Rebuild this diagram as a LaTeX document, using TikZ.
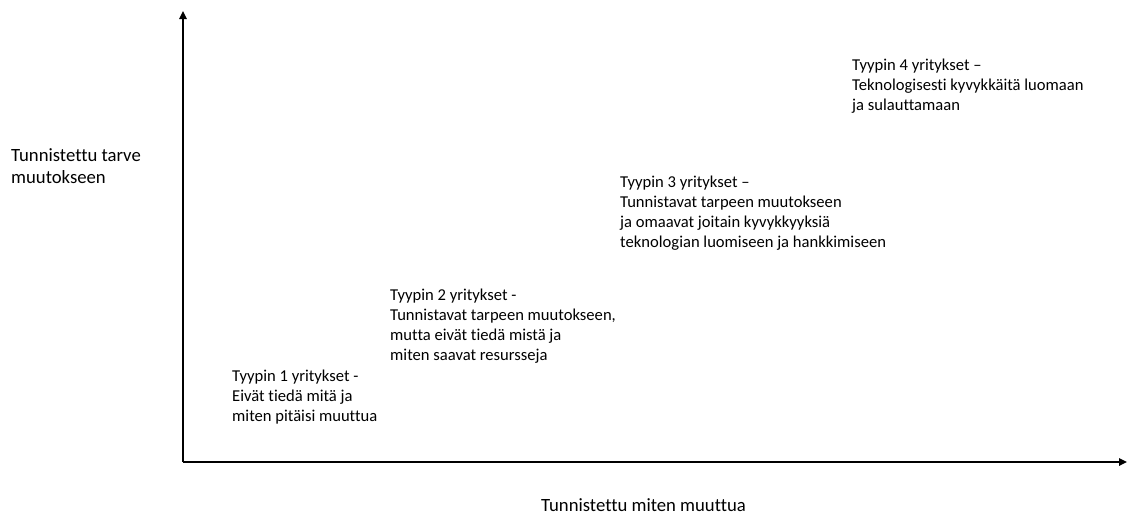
\documentclass[tikz,border=0pt]{standalone}
\usepackage{fontspec}
\setmainfont{Carlito}[Ligatures=NoCommon]
\usetikzlibrary{arrows.meta}
\begin{document}
\begin{tikzpicture}[x=1pt,y=-1pt,
  axis/.style={line width=1.6pt,-{Triangle[length=8pt,width=7.5pt]}},
  % nodes are placed at the baseline of their last line
  lbl/.style={anchor=base west,inner sep=0pt,align=left,font=\fontsize{16.6}{20}\selectfont},
  axlbl/.style={anchor=base west,inner sep=0pt,align=left,font=\fontsize{18.7}{22}\selectfont}]
\useasboundingbox (0,0) rectangle (1127,515);
\coordinate (o) at (183,462);
\coordinate (ytip) at (183,11);
\coordinate (xtip) at (1127,462);
\draw[axis] (o) -- (ytip);
\draw[axis] (o) -- (xtip);
\node[axlbl] (ylab) at (11,183) {Tunnistettu tarve\\muutokseen};
\node[axlbl] (xlab) at (541,511) {Tunnistettu miten muuttua};
\node[lbl] (t1) at (232,421) {Tyypin 1 yritykset -\\Eivät tiedä mitä ja\\miten pitäisi muuttua};
\node[lbl] (t2) at (390,360) {Tyypin 2 yritykset -\\Tunnistavat tarpeen muutokseen,\\mutta eivät tiedä mistä ja\\miten saavat resursseja};
\node[lbl] (t3) at (620,247) {Tyypin 3 yritykset –\\Tunnistavat tarpeen muutokseen\\ja omaavat joitain kyvykkyyksiä\\teknologian luomiseen ja hankkimiseen};
\node[lbl] (t4) at (852,110) {Tyypin 4 yritykset –\\Teknologisesti kyvykkäitä luomaan\\ja sulauttamaan};
\end{tikzpicture}
\end{document}
